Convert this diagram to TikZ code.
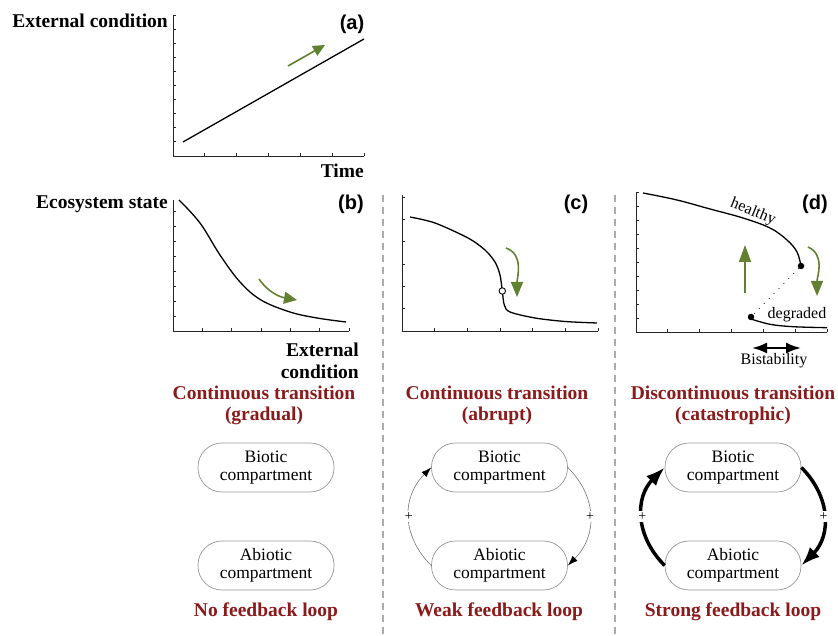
\documentclass[tikz,border=0pt]{standalone}
\usepackage{fontspec}
\setmainfont{Liberation Serif}
\setsansfont{Liberation Sans}
\usepackage{xcolor}
\usepackage{tikz}
\usetikzlibrary{arrows.meta}
\usetikzlibrary{positioning, calc}
\definecolor{titlered}{RGB}{139,26,26}
\definecolor{ecogreen}{RGB}{98,128,50}
\definecolor{boxgray}{RGB}{150,150,150}
\definecolor{sepgray}{RGB}{170,170,170}

\begin{document}
\begin{tikzpicture}[x=1pt, y=1pt,
  axis/.style={line width=0.9pt, black!85},
  curve/.style={line width=1.3pt},
  axlabel/.style={inner sep=0pt, font={\fontsize{19.5}{22}\selectfont\bfseries}},
  panel/.style={inner sep=0pt, font={\fontsize{20}{22}\selectfont\sffamily\bfseries}},
  title/.style={align=center, text=titlered, inner sep=0pt, font={\fontsize{19.5}{21}\selectfont\bfseries}},
  comp/.style={draw=boxgray, line width=0.7pt, rounded corners=24pt, minimum width=136pt,
    minimum height=49pt, align=center, inner sep=0pt, font={\fontsize{17.5}{18.5}\selectfont}},
  small/.style={inner sep=0pt, font={\fontsize{16}{18}\selectfont}},
  greenarrow/.style={draw=ecogreen, line width=1.6pt, -{Triangle[length=13pt,width=12pt]}},
  weak/.style={draw=black!55, line width=0.6pt, -{Latex[length=10pt,width=7pt,color=black]}},
  strong/.style={draw=black, line width=3.5pt, -{Latex[length=19pt,width=14pt]}},
  plus/.style={fill=white, inner sep=1.5pt, font={\fontsize{14}{14}\selectfont}},
  dot/.style={circle, fill=black, inner sep=0pt, minimum size=6.5pt},
  opendot/.style={circle, draw=black, line width=0.9pt, fill=white, inner sep=0pt, minimum size=6.5pt}]
\useasboundingbox (0,0) rectangle (838,636);

% separators
\foreach \x in {383, 615}
  \draw[sepgray, line width=1.5pt, dash pattern=on 7pt off 5pt] (\x,441) -- (\x,0);

% axes of the four panels
\foreach \ox/\oy/\w/\h/\dy/\ny in {
    173/480/191/141/14.1/10, 173/305/176/131/15/8,
    402/305/196/136/22.3/6, 636/304/191/140/14/10} {
  \draw[axis] (\ox,\oy+\h) -- (\ox,\oy) -- (\ox+\w,\oy);
  \foreach \k in {1,...,\ny}
    \draw[axis] (\ox,\oy+\k*\dy) -- ++(3,0);
  \foreach \k in {1,...,6}
    \draw[axis] (\ox+\k*\w/6,\oy) -- ++(0,3);
}

% (a)
\node[axlabel, anchor=base east] (ylabA) at (168,608) {External condition};
\node[axlabel, anchor=base east] (xlabA) at (364,458) {Time};
\node[panel, anchor=base] (pa) at (352,606) {(a)};
\draw[curve] (183,494) -- (364,597);
\draw[greenarrow, -{Triangle[length=12pt,width=11pt]}] (288,570) -- (325,591);

% (b)
\node[axlabel, anchor=base east] (ylabB) at (168,427) {Ecosystem state};
\node[axlabel, anchor=north east, align=right] (xlabB) at (359,293) {External\\condition};
\node[panel, anchor=base] (pb) at (351,426) {(b)};
\draw[curve] plot[smooth, tension=0.6] coordinates {(179,436) (200,413) (220,381)
  (240,354) (261,336) (290,324) (317,318) (346,314)};
\draw[greenarrow] (259,357) to[out=-55, in=170] (297,336);

% (c)
\node[panel, anchor=base] (pc) at (576,426) {(c)};
\draw[curve] plot[smooth, tension=0.5] coordinates {(410,419) (435,413) (468,398)
  (485,386) (495,374) (500,361) (502.3,345) (504.3,331) (510,324) (535,318)
  (565,314.5) (597,313)};
\node[opendot] (fold) at (502.3,345) {};
\draw[greenarrow, -{Triangle[length=15pt,width=12pt]}] (506,388) to[out=-20, in=90] (517,339);

% (d)
\node[panel, anchor=base] (pd) at (815,426) {(d)};
\draw[curve] plot[smooth, tension=0.6] coordinates {(643,443) (677,436) (710,427)
  (743,418) (770,408) (787,396) (797,384) (801,370)};
\draw[curve] plot[smooth, tension=0.6] coordinates {(751,317) (770,311.7)
  (793,309.3) (827,308.3)};
\node[dot] (hup) at (801,370) {};
\node[dot] (dlow) at (751,319) {};
\draw[line width=1.3pt, black!80, line cap=round, dash pattern=on 0pt off 7pt] (hup) -- (dlow);
\node[small, rotate=-22] (healthy) at (753,424) {healthy};
\node[small] (degraded) at (797,321) {degraded};
\draw[greenarrow, -{Triangle[length=17pt,width=12pt]}] (745,343) -- (745,391);
\draw[greenarrow, -{Triangle[length=15pt,width=12pt]}] (808,389) to[out=-25, in=90] (817,340);
\coordinate (bsL) at (752,288);
\coordinate (bsR) at (801,288);
\draw[line width=2.2pt, {Latex[length=15pt,width=11pt]}-{Latex[length=15pt,width=11pt]}] (bsL) -- (bsR);
\node[small] (bistab) at (774,275) {Bistability};

% titles
\node[title] (tB) at (264,230.5) {Continuous transition\\(gradual)};
\node[title] (tC) at (497,230.5) {Continuous transition\\(abrupt)};
\node[title] (tD) at (733,230.5) {Discontinuous transition\\(catastrophic)};

% compartments
\foreach \c/\x in {B/266, C/499.5, D/733} {
  \node[comp] (bio\c) at (\x,168.5) {Biotic\\compartment};
  \node[comp] (abio\c) at (\x,70.5) {Abiotic\\compartment};
}

\draw[weak] (abioC.west) to[out=135, in=225, looseness=1.1] node[plus] {+} (bioC.west);
\draw[weak] (bioC.east) to[out=-45, in=45, looseness=1.1] node[plus] {+} (abioC.east);
\draw[strong] (abioD.west) to[out=135, in=225, looseness=1.1] node[plus] {+} (bioD.west);
\draw[strong] (bioD.east) to[out=-45, in=45, looseness=1.1] node[plus] {+} (abioD.east);

% loop captions
\node[title] (fB) at (266,24) {No feedback loop};
\node[title] (fC) at (499,24) {Weak feedback loop};
\node[title] (fD) at (733,24) {Strong feedback loop};

\end{tikzpicture}
\end{document}
